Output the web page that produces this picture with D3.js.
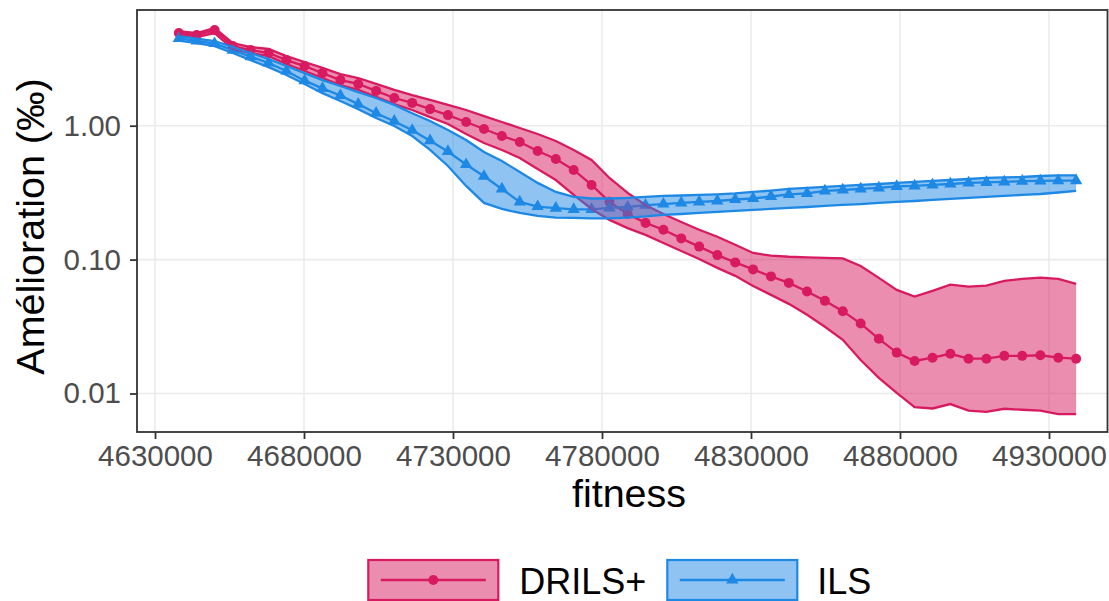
<!DOCTYPE html>
<html><head><meta charset="utf-8">
<script src="https://cdn.jsdelivr.net/npm/d3@7"></script>
<style>body{margin:0;background:#fff} text{font-family:"Liberation Sans",Arial,sans-serif}</style>
</head><body><svg id="c" width="1109" height="601"></svg>
<script>
const fitness = [4638000,4644000,4650000,4656100,4662100,4668100,4674100,4680200,4686200,4692200,
 4698200,4704200,4710300,4716300,4722300,4728300,4734400,4740400,4746400,4752400,
 4758400,4764500,4770500,4776500,4782500,4788600,4794600,4800600,4806600,4812600,
 4818700,4824700,4830700,4836700,4842700,4848800,4854800,4860800,4866800,4872900,
 4878900,4884900,4890900,4896900,4903000,4909000,4915000,4921000,4927100,4933100,4939100];

const drilsMean = [4.92,4.75,5.18,3.93,3.67,3.49,3.09,2.79,2.47,2.19,
 2.05,1.82,1.61,1.48,1.33,1.20,1.066,0.945,0.838,0.756,
 0.647,0.564,0.467,0.361,0.270,0.219,0.188,0.167,0.144,0.125,
 0.108,0.0953,0.0845,0.0749,0.0670,0.0577,0.0492,0.0412,0.0333,0.0256,
 0.0202,0.0175,0.0185,0.0198,0.0182,0.0182,0.0191,0.0191,0.0193,0.0185,0.0182];
const drilsHigh = [5.09,4.92,5.36,4.14,3.87,3.74,3.31,2.99,2.70,2.43,
 2.27,2.05,1.85,1.69,1.56,1.43,1.31,1.18,1.066,0.961,
 0.867,0.769,0.659,0.555,0.407,0.315,0.256,0.219,0.191,0.167,
 0.148,0.129,0.112,0.107,0.105,0.104,0.103,0.102,0.0897,0.0730,
 0.0594,0.0530,0.0584,0.0651,0.0629,0.0640,0.0693,0.0718,0.0734,0.0718,0.0659];
const drilsLow = [4.75,4.59,4.92,3.74,3.49,3.31,2.89,2.56,2.27,2.01,
 1.85,1.64,1.45,1.31,1.16,1.03,0.867,0.743,0.659,0.574,
 0.475,0.393,0.304,0.239,0.198,0.172,0.153,0.133,0.116,0.101,
 0.0867,0.0756,0.0636,0.0545,0.0467,0.0387,0.0315,0.0252,0.0178,0.0131,
 0.0101,0.00792,0.00773,0.00834,0.00746,0.00730,0.00769,0.00756,0.00746,0.00702,0.00702];

const ilsMean = [4.49,4.30,4.11,3.67,3.28,2.94,2.56,2.17,1.90,1.68,
 1.45,1.24,1.08,0.924,0.773,0.642,0.513,0.419,0.337,0.270,
 0.249,0.242,0.237,0.237,0.243,0.247,0.255,0.260,0.265,0.270,
 0.274,0.281,0.286,0.296,0.307,0.312,0.326,0.331,0.337,0.343,
 0.352,0.355,0.361,0.367,0.374,0.377,0.380,0.385,0.387,0.389,0.389];
const ilsHigh = [4.67,4.47,4.29,3.87,3.49,3.15,2.79,2.47,2.19,1.98,
 1.78,1.61,1.43,1.24,1.084,0.929,0.782,0.636,0.545,0.451,
 0.374,0.320,0.294,0.286,0.286,0.289,0.294,0.299,0.301,0.304,
 0.307,0.312,0.320,0.328,0.337,0.343,0.349,0.355,0.361,0.367,
 0.374,0.380,0.387,0.393,0.400,0.407,0.411,0.414,0.421,0.425,0.425];
const ilsLow = [4.32,4.14,3.93,3.49,3.09,2.74,2.39,2.05,1.75,1.53,
 1.33,1.14,0.995,0.838,0.659,0.500,0.355,0.265,0.239,0.223,
 0.212,0.206,0.205,0.203,0.203,0.206,0.210,0.216,0.219,0.223,
 0.227,0.231,0.235,0.239,0.243,0.247,0.252,0.256,0.260,0.265,
 0.270,0.274,0.279,0.284,0.289,0.294,0.299,0.304,0.309,0.317,0.326];

const xTicks = [4630000,4680000,4730000,4780000,4830000,4880000,4930000];
const yTicks = [0.01,0.1,1];
const yTickLabels = ["0.01","0.10","1.00"];
const seriesNames = ["DRILS+","ILS"];
const seriesColors = ["#D81B60","#1E88E5"];
const xTitle = "fitness";
const yTitle = "Amélioration (‰)";

const svg = d3.select("#c");
const L = 137, R = 1107.5, T = 10, B = 432;

const x = d3.scaleLinear().domain([4630000,4930000]).range([155,1049]);
const y = d3.scaleLog().domain([0.01,1]).range([393.5,125.7]);

// grid
const grid = svg.append("g");
grid.selectAll(".gx").data(xTicks).join("line").attr("x1",d=>x(d)).attr("x2",d=>x(d)).attr("y1",T).attr("y2",B)
  .attr("stroke","#EBEBEB").attr("stroke-width",1.6);
grid.selectAll(".gy").data(yTicks).join("line").attr("y1",d=>y(d)).attr("y2",d=>y(d)).attr("x1",L).attr("x2",R)
  .attr("stroke","#EBEBEB").attr("stroke-width",1.6);

const series = [
  {name:seriesNames[0], color:seriesColors[0], mean:drilsMean, lo:drilsLow, hi:drilsHigh, shape:"circle"},
  {name:seriesNames[1], color:seriesColors[1], mean:ilsMean, lo:ilsLow, hi:ilsHigh, shape:"triangle"}
];
const line = d3.line().x(d=>x(d[0])).y(d=>y(d[1]));
const area = d3.area().x(d=>x(d[0])).y0(d=>y(d[1])).y1(d=>y(d[2]));
const tri = d3.symbol().type(d3.symbolTriangle).size(66);

const plot = svg.append("g");
series.forEach(s=>{
  plot.append("path").datum(fitness.map((f,i)=>[f,s.mean[i]])).attr("d",line)
    .attr("fill","none").attr("stroke",s.color).attr("stroke-width",2.3);
});
series.forEach(s=>{
  const pts = fitness.map((f,i)=>[f,s.mean[i]]);
  if(s.shape==="circle"){
    plot.append("g").selectAll("circle").data(pts).join("circle").attr("cx",d=>x(d[0])).attr("cy",d=>y(d[1])).attr("r",5).attr("fill",s.color);
  } else {
    plot.append("g").selectAll("path").data(pts).join("path").attr("d",tri).attr("transform",d=>`translate(${x(d[0])},${y(d[1])})`).attr("fill",s.color);
  }
});
series.forEach(s=>{
  const band = fitness.map((f,i)=>[f,s.lo[i],s.hi[i]]);
  plot.append("path").datum(band).attr("d",area).attr("fill",s.color).attr("fill-opacity",0.5).attr("stroke","none");
  plot.append("path").datum(fitness.map((f,i)=>[f,s.hi[i]])).attr("d",line).attr("fill","none").attr("stroke",s.color).attr("stroke-width",2.3);
  plot.append("path").datum(fitness.map((f,i)=>[f,s.lo[i]])).attr("d",line).attr("fill","none").attr("stroke",s.color).attr("stroke-width",2.3);
});

// panel border
svg.append("rect").attr("x",L).attr("y",T).attr("width",R-L).attr("height",B-T).attr("fill","none").attr("stroke","#333333").attr("stroke-width",1.8);

// axes
const xa = svg.append("g").attr("transform",`translate(0,${B})`)
  .call(d3.axisBottom(x).tickValues(xTicks).tickFormat(d3.format("d")).tickSize(7).tickPadding(6));
const ya = svg.append("g").attr("transform",`translate(${L},0)`)
  .call(d3.axisLeft(y).tickValues(yTicks).tickFormat((d,i)=>yTickLabels[i]).tickSize(7).tickPadding(9));
[xa,ya].forEach(a=>{
  a.select(".domain").remove();
  a.selectAll(".tick line").attr("stroke","#333333").attr("stroke-width",1.8);
  a.selectAll(".tick text").attr("fill","#4D4D4D").style("font-size","29.5px").style("font-family",'"Liberation Sans",Arial,sans-serif');
});

// titles
svg.append("text").attr("x",629).attr("y",507).attr("text-anchor","middle").style("font-size","39.5px").attr("fill","#000").text(xTitle);
svg.append("text").attr("transform",`translate(43.5,226.5) rotate(-90)`).attr("text-anchor","middle").style("font-size","39.5px").attr("fill","#000").text(yTitle);

// legend
const legX = [368.3, 667.3], textX = [519.3, 817.3];
series.forEach((s,i)=>{
  const g = svg.append("g");
  g.append("rect").attr("x",legX[i]).attr("y",560).attr("width",130).attr("height",40)
    .attr("fill",s.color).attr("fill-opacity",0.5).attr("stroke",s.color).attr("stroke-width",2.2);
  g.append("line").attr("x1",legX[i]+12.5).attr("x2",legX[i]+117.5).attr("y1",580).attr("y2",580).attr("stroke",s.color).attr("stroke-width",2.3);
  if(s.shape==="circle") g.append("circle").attr("cx",legX[i]+65).attr("cy",580).attr("r",5).attr("fill",s.color);
  else g.append("path").attr("d",tri()).attr("transform",`translate(${legX[i]+65},580)`).attr("fill",s.color);
  g.append("text").attr("x",textX[i]).attr("y",594).style("font-size","36px").attr("fill","#000").text(s.name);
});
</script></body></html>
